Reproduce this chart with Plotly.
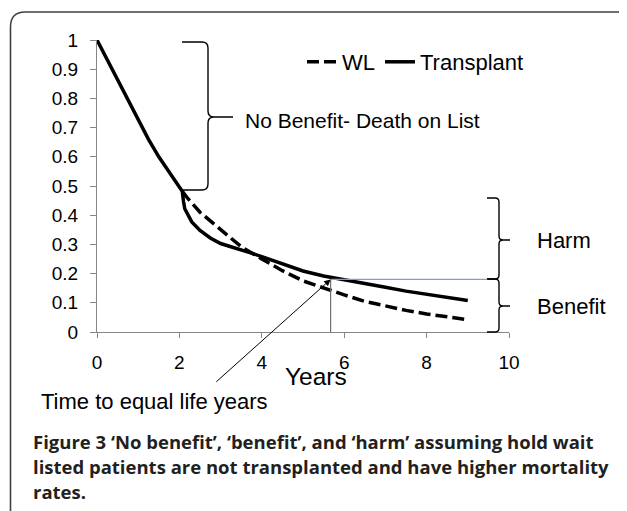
import plotly.graph_objects as go

# ---------------- data ----------------
tx_x = [0, 0.25, 0.5, 0.75, 1.0, 1.25, 1.5, 1.75, 2.0, 2.07, 2.1, 2.13, 2.3, 2.5, 2.75, 3.0,
        3.25, 3.5, 3.75, 4.0, 4.5, 5.0, 5.5, 6.0, 6.5, 7.0, 7.5, 8.0, 8.5, 9.0]
tx_y = [1.0, 0.932, 0.865, 0.797, 0.727, 0.66, 0.60, 0.547, 0.497, 0.482, 0.447, 0.422, 0.377,
        0.348, 0.322, 0.303, 0.292, 0.282, 0.27, 0.258, 0.232, 0.209, 0.192, 0.178, 0.166,
        0.153, 0.140, 0.129, 0.118, 0.108]

wl_x = [2.07, 2.2, 2.5, 3.0, 3.5, 4.0, 4.5, 5.0, 5.5, 6.0, 6.5, 7.0, 7.5, 8.0, 8.5, 9.0]
wl_y = [0.482, 0.458, 0.41, 0.35, 0.292, 0.25, 0.21, 0.175, 0.15, 0.127, 0.105, 0.088,
        0.074, 0.062, 0.051, 0.042]

x_ticks = [0, 2, 4, 6, 8, 10]
y_ticks = [0, 0.1, 0.2, 0.3, 0.4, 0.5, 0.6, 0.7, 0.8, 0.9, 1]

equal_x = 5.67   # time to equal life years
equal_y = 0.18

series_names = ["WL", "Transplant"]
caption_lines = [
    "Figure 3 \u2018No benefit\u2019, \u2018benefit\u2019, and \u2018harm\u2019 assuming hold wait",
    "listed patients are not transplanted and have higher mortality",
    "rates.",
]

# ---------------- layout geometry (screen pixels; page body has an 8px margin) ----------------
OFF = 8
W, H = 627 - OFF, 511 - OFF
X0, X1 = 97, 509      # plot area in screen px
Y0, Y1 = 40, 332
PW = X1 - X0
PH = Y1 - Y0
L = X0 - OFF
T = Y0 - OFF
R = W - (X1 - OFF)
B = H - (Y1 - OFF)
FONT = "Liberation Sans, Arial, Helvetica, sans-serif"
CAPFONT = "Open Sans, Noto Sans, sans-serif"


def px(x):
    return (x - X0) / PW


def py(y):
    return (Y1 - y) / PH


def path(cmds):
    out = []
    for cmd in cmds:
        out.append(cmd[0] + " " + " ".join(f"{px(a):.5f},{py(b):.5f}" for a, b in cmd[1:]))
    return " ".join(out)


def brace(x_arm, x_mid, x_tip, y_top, y_bot, y_tip, r):
    return path([
        ("M", (x_arm, y_top)),
        ("L", (x_mid - r, y_top)),
        ("Q", (x_mid, y_top), (x_mid, y_top + r)),
        ("L", (x_mid, y_tip - r)),
        ("Q", (x_mid, y_tip), (x_mid + r, y_tip)),
        ("L", (x_tip, y_tip)),
        ("M", (x_mid + r, y_tip)),
        ("Q", (x_mid, y_tip), (x_mid, y_tip + r)),
        ("L", (x_mid, y_bot - r)),
        ("Q", (x_mid, y_bot), (x_mid - r, y_bot)),
        ("L", (x_arm, y_bot)),
    ])


fig = go.Figure()
fig.add_trace(go.Scatter(x=wl_x, y=wl_y, mode="lines", name=series_names[0],
                         line=dict(color="black", width=3.5, dash="12px,5px")))
fig.add_trace(go.Scatter(x=tx_x, y=tx_y, mode="lines", name=series_names[1],
                         line=dict(color="black", width=3.5)))

shapes = []
# frame
shapes.append(dict(type="path", xref="paper", yref="paper",
                   path=path([("M", (10.5, 515)), ("L", (10.5, 27)),
                              ("Q", (10.5, 12), (25, 12)), ("L", (622, 12)),
                              ("Q", (626, 12), (626, 15))]),
                   line=dict(color="#404040", width=1.6)))
# braces
shapes.append(dict(type="path", xref="paper", yref="paper",
                   path=brace(182, 208, 233, 42, 190, 117, 6),
                   line=dict(color="black", width=1.4)))
shapes.append(dict(type="path", xref="paper", yref="paper",
                   path=brace(487, 499, 510, 198, 279, 240, 4),
                   line=dict(color="black", width=1.4)))
shapes.append(dict(type="path", xref="paper", yref="paper",
                   path=brace(487, 499, 510, 279, 332, 306, 4),
                   line=dict(color="black", width=1.4)))
# equal-life reference lines
shapes.append(dict(type="line", xref="x", yref="y", x0=equal_x, x1=equal_x, y0=0, y1=equal_y,
                   line=dict(color="#6f6f6f", width=1.2)))
shapes.append(dict(type="line", xref="x", yref="y", x0=equal_x, x1=9.47, y0=equal_y, y1=equal_y,
                   line=dict(color="#7f9fd6", width=1.2)))

annotations = [
    dict(text="No Benefit- Death on List", x=px(243), y=py(120), xref="paper", yref="paper",
         xanchor="left", yanchor="middle", showarrow=False, font=dict(family=FONT, size=21, color="black")),
    dict(text="Harm", x=px(535), y=py(240), xref="paper", yref="paper",
         xanchor="left", yanchor="middle", showarrow=False, font=dict(family=FONT, size=22, color="black")),
    dict(text="Benefit", x=px(535), y=py(306), xref="paper", yref="paper",
         xanchor="left", yanchor="middle", showarrow=False, font=dict(family=FONT, size=22, color="black")),
    dict(text="Years", x=px(316), y=py(376), xref="paper", yref="paper",
         xanchor="center", yanchor="middle", showarrow=False, font=dict(family=FONT, size=24.5, color="black")),
    dict(text="Time to equal life years", x=px(39), y=py(401), xref="paper", yref="paper",
         xanchor="left", yanchor="middle", showarrow=False, font=dict(family=FONT, size=22, color="black")),
    dict(text="", x=equal_x, y=equal_y, xref="x", yref="y", ax=2.86, ay=-0.175, axref="x", ayref="y",
         showarrow=True, arrowhead=2, arrowsize=1.3, arrowwidth=1, arrowcolor="black", standoff=0),
]
for i, line in enumerate(caption_lines):
    txt = "<b>" + line + "</b>"
    annotations.append(dict(text=txt, x=px(31), y=py(441 + 25 * i), xref="paper", yref="paper",
                            xanchor="left", yanchor="middle", align="left", showarrow=False,
                            font=dict(family=CAPFONT, size=18.5, color="#231f20")))

fig.update_layout(
    width=W, height=H,
    margin=dict(l=L, r=R, t=T, b=B, pad=0),
    paper_bgcolor="white", plot_bgcolor="white",
    shapes=shapes, annotations=annotations,
    showlegend=True,
    legend=dict(orientation="h", x=px(302), y=py(62), xanchor="left", yanchor="middle",
                font=dict(family=FONT, size=22, color="black"), bgcolor="rgba(0,0,0,0)",
                itemwidth=30, tracegroupgap=0),
    xaxis=dict(range=[0, 10], tickvals=x_ticks, showgrid=False, zeroline=False, showline=True,
               linecolor="#868686", linewidth=1, ticks="outside", ticklen=5, tickcolor="#868686",
               tickfont=dict(family=FONT, size=19, color="black"), ticklabelstandoff=8),
    yaxis=dict(range=[0, 1], tickvals=y_ticks, showgrid=False, zeroline=False, showline=True,
               linecolor="#868686", linewidth=1, ticks="outside", ticklen=6, tickcolor="#868686",
               tickfont=dict(family=FONT, size=19, color="black"), ticklabelstandoff=8),
)

fig.write_html("out.html")
